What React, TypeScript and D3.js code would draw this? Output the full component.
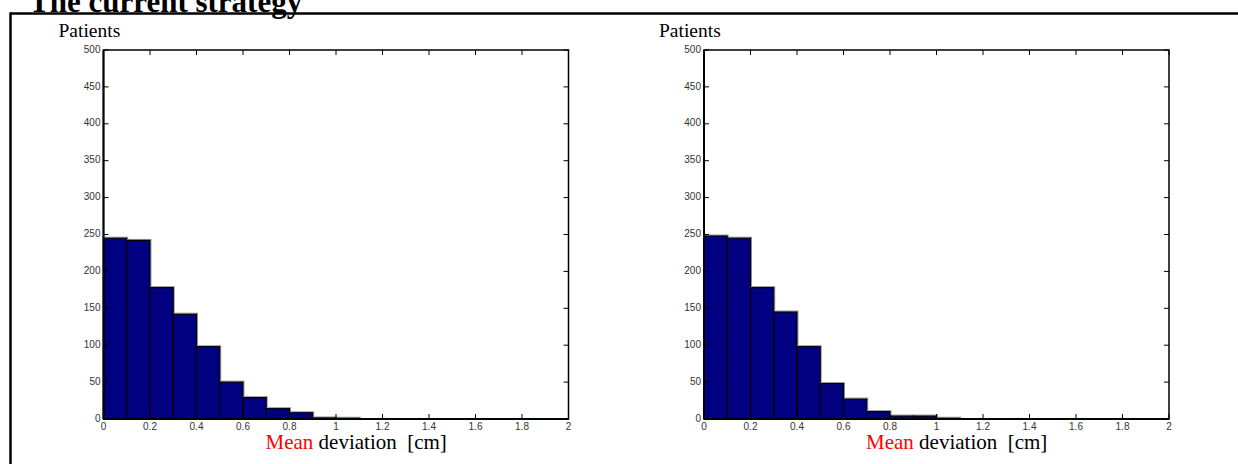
import React from "react";
import * as d3 from "d3";

const binEdges = [0, 0.1, 0.2, 0.3, 0.4, 0.5, 0.6, 0.7, 0.8, 0.9, 1.0, 1.1, 1.2, 1.3, 1.4, 1.5, 1.6, 1.7, 1.8, 1.9];
const leftCounts = [245, 242, 178, 142, 98, 50, 29, 14, 8.5, 1.5, 1, 0, 0, 0, 0, 0, 0, 0, 0, 0];
const rightCounts = [248, 245, 178, 145, 98, 48, 27, 10, 4, 4, 1, 0, 0, 0, 0, 0, 0, 0, 0, 0];
const xTicks = [0, 0.2, 0.4, 0.6, 0.8, 1, 1.2, 1.4, 1.6, 1.8, 2];
const yTicks = [0, 50, 100, 150, 200, 250, 300, 350, 400, 450, 500];
const title = "The current strategy";
const yLabel = "Patients";

const SERIF = "'Liberation Serif', 'Times New Roman', serif";
const SANS = "'Liberation Sans', Arial, sans-serif";

function Hist({ x0, counts }: { x0: number; counts: number[] }) {
  const x1 = x0 + 465;
  const yTop = 50;
  const yBot = 419;
  const x = d3.scaleLinear().domain([0, 2]).range([x0, x1]);
  const y = d3.scaleLinear().domain([0, 500]).range([yBot, yTop]);
  const tl = 5;
  return (
    <g>
      {counts.map((c, i) => {
        const a = x(binEdges[i]);
        const b = x(binEdges[i] + 0.1);
        const t = y(c);
        if (c <= 0) return null;
        return (
          <g key={i}>
            <rect x={a + 1} y={t - 1} width={b - a} height={yBot - t + 1} fill="none" stroke="#9a9a9a" strokeWidth={1} />
            <rect x={a} y={t} width={b - a} height={yBot - t} fill="#000080" stroke="#000" strokeWidth={1.2} />
          </g>
        );
      })}
      <rect x={x0} y={yTop} width={x1 - x0} height={yBot - yTop} fill="none" stroke="#000" strokeWidth={1.5} />
      <line x1={x0} x2={x0} y1={yTop} y2={yBot} stroke="#000" strokeWidth={2} />
      <line x1={x0} x2={x1} y1={yBot} y2={yBot} stroke="#000" strokeWidth={2} />
      {yTicks.map((v) => (
        <g key={"y" + v}>
          <line x1={x0} x2={x0 + tl} y1={y(v)} y2={y(v)} stroke="#000" strokeWidth={1} />
          <line x1={x1} x2={x1 - tl} y1={y(v)} y2={y(v)} stroke="#000" strokeWidth={1} />
          <text x={x0 - 3} y={y(v)} textAnchor="end" dominantBaseline="middle" fontFamily={SANS} fontSize={10} fill="#333">
            {v}
          </text>
        </g>
      ))}
      {xTicks.map((v) => (
        <g key={"x" + v}>
          <line x1={x(v)} x2={x(v)} y1={yBot} y2={yBot - tl} stroke="#000" strokeWidth={1} />
          <line x1={x(v)} x2={x(v)} y1={yTop} y2={yTop + tl} stroke="#000" strokeWidth={1} />
          <text x={x(v)} y={yBot + 8.5} textAnchor="middle" dominantBaseline="middle" fontFamily={SANS} fontSize={10} fill="#333">
            {v}
          </text>
        </g>
      ))}
      <text x={x0 - 45} y={37} fontFamily={SERIF} fontSize={19.5} fill="#000">
        {yLabel}
      </text>
      <text x={x0 + 162} y={449} fontFamily={SERIF} fontSize={21} fill="#000" style={{ whiteSpace: "pre" }}>
        <tspan fill="#ff0000">Mean</tspan>
        <tspan>{" deviation  [cm]"}</tspan>
      </text>
    </g>
  );
}

export default function App() {
  return (
    <svg width={1238} height={464} style={{ position: "absolute", left: 0, top: 0, background: "#fff" }}>
      <rect x={0} y={0} width={1238} height={464} fill="#fff" />
      <text x={29} y={12} fontFamily={SERIF} fontWeight="bold" fontSize={31} fill="#000">
        {title}
      </text>
      <line x1={10} x2={1238} y1={13.5} y2={13.5} stroke="#000" strokeWidth={2.5} />
      <line x1={10.5} x2={10.5} y1={12.5} y2={464} stroke="#000" strokeWidth={2.5} />
      <Hist x0={103.5} counts={leftCounts} />
      <Hist x0={704} counts={rightCounts} />
    </svg>
  );
}
